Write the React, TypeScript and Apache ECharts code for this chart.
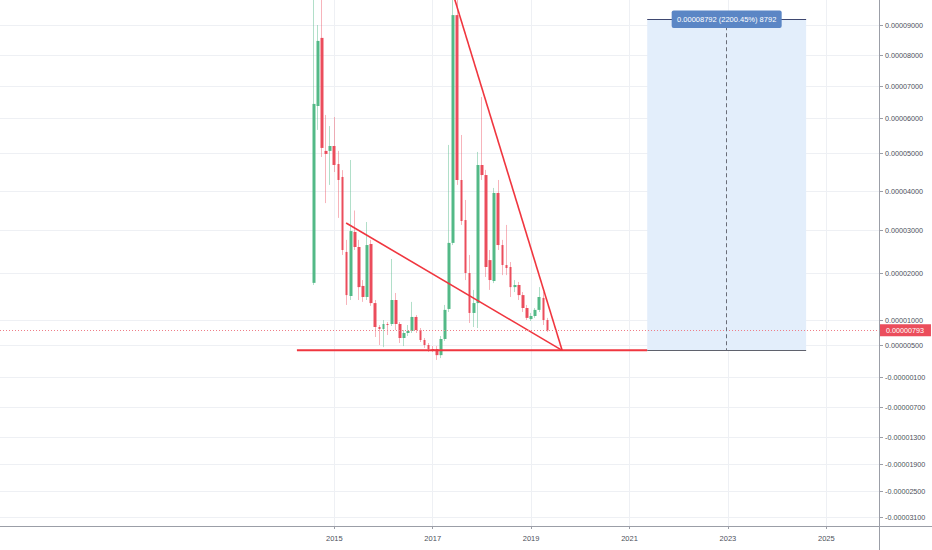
import React, { useEffect, useRef } from "react";
import * as echarts from "echarts";

// ---------- data (prices in units of 0.00000001) ----------
const FIRST_MONTH = "2014-08";
const OPEN = [
  1790, 6375, 8570, 5060, 5060, 5200, 4710, 4370, 2490, 1510,
  2955, 2605, 1725, 1490, 2675, 1360, 860, 820, 920, 920,
  1425, 920, 640, 740, 780, 1065, 800, 600, 500, 425,
  425, 310, 620, 1235, 2700, 9330, 4290, 3255, 2000, 1150,
  1360, 4685, 4420, 2300, 1830, 3950, 2650, 2185, 2140, 1700,
  1745, 1530, 1255, 1020, 1085, 1215, 1470, 1000,
];
const CLOSE = [
  6440, 8470, 5145, 4975, 5200, 4685, 4290, 2535, 1530, 2975,
  2605, 1700, 1490, 2650, 1360, 860, 820, 920, 900, 1425,
  920, 640, 740, 780, 1065, 800, 600, 500, 425, 405,
  310, 620, 1215, 2700, 9330, 4290, 3230, 2000, 1150, 1360,
  4685, 4420, 2140, 1850, 3950, 2650, 2185, 2115, 1700, 1745,
  1530, 1255, 1045, 1085, 1215, 1490, 1000, 793,
];
const LOW = [
  1745, 5660, 4895, 3690, 4160, 4500, 3310, 2420, 1320, 1425,
  2535, 1425, 1385, 1425, 1300, 660, 500, 460, 700, 880,
  800, 540, 480, 680, 740, 740, 560, 445, 370, 370,
  220, 255, 580, 1170, 2650, 4160, 3130, 1850, 940, 860,
  840, 4290, 1915, 1640, 1785, 2535, 1955, 1955, 1490, 1595,
  1425, 1170, 1000, 980, 1045, 1170, 900, 760,
];
const HIGH = [
  10200, 9000, 10100, 6095, 5770, 6030, 5060, 4550, 2770, 4815,
  3500, 2770, 1850, 3205, 2770, 1425, 900, 1000, 960, 2325,
  1575, 960, 800, 900, 1385, 1105, 840, 640, 540, 480,
  480, 680, 1320, 5230, 10100, 10100, 5515, 3770, 2420, 1640,
  5030, 6655, 4555, 2535, 4080, 4290, 2770, 3130, 2255, 1850,
  1810, 1595, 1320, 1150, 1255, 1700, 1595, 1045,
];
const LAST_PRICE = 793;

const PRICE_TICKS = [9000, 8000, 7000, 6000, 5000, 4000, 3000, 2000, 1000, 500, -100, -700, -1300, -1900, -2500, -3100];
const YEAR_TICKS = [2015, 2017, 2019, 2021, 2023, 2025];

// drawings: [fractional year, price]
const SUPPORT_LINE = [[2014.24, 400], [2021.36, 400]];
const UPPER_TREND = [[2017.45, 9840], [2019.63, 400]];
const LOWER_TREND = [[2015.24, 3180], [2019.63, 400]];
const RANGE_FROM = 400;
const RANGE_TO = 9192;
const RANGE_START = 2021.36;
const RANGE_END = 2024.59;
const RANGE_LABEL = "0.00008792 (2200.45%) 8792";

// ---------- scale ----------
const PLOT_H = 526;
const X_MIN = 2008.205;
const X_MAX = 2026.071;
// the price axis is a compressed (log-like) scale; knots = depth below top edge of each labelled price
const SCALE_DEPTH = [25, 55, 86, 118, 153, 191, 230, 273, 320, 345, 377, 407, 437, 464, 491, 517];

function depthOf(p: number): number {
  const v = PRICE_TICKS;
  const d = SCALE_DEPTH;
  const n = v.length;
  let k = 0;
  while (k < n - 2 && p < v[k + 1]) k++;
  const f = (v[k] - p) / (v[k] - v[k + 1]);
  return d[k] + f * (d[k + 1] - d[k]);
}
const T = (p: number) => PLOT_H - depthOf(p);
const TICK_T = PRICE_TICKS.map(T);

function fmtPrice(u: number): string {
  const s = u < 0 ? "-" : "";
  const a = String(Math.abs(Math.round(u))).padStart(8, "0");
  return s + "0." + a;
}

const [FY, FM] = FIRST_MONTH.split("-").map(Number);
const monthX = (i: number) => FY + (FM - 1 + i) / 12;

const FONT = "'Liberation Sans', Arial, sans-serif";
const UP = "#53b987";
const DOWN = "#eb4d5c";
const AXIS = "#9b9ea7";
const GRID = "#eef0f4";
const TEXT = "#4d505b";
const TREND = "#f0363f";
const LABEL_BOX = "path://M2,0 L108,0 Q110,0 110,2 L110,15.5 Q110,17.5 108,17.5 L2,17.5 Q0,17.5 0,15.5 L0,2 Q0,0 2,0 Z";

export default function App() {
  const ref = useRef<HTMLDivElement>(null);

  useEffect(() => {
    if (!ref.current) return;
    const chart = echarts.init(ref.current, undefined, { renderer: "svg" });

    const wickData = OPEN.map((o, i) => [monthX(i), T(o), T(CLOSE[i]), T(LOW[i]), T(HIGH[i])]);
    const bodyData = OPEN.map((o, i) => {
      const c = CLOSE[i];
      return [monthX(i), T(o), T(c), T(Math.min(o, c)), T(Math.max(o, c))];
    });
    const toLine = (pts: number[][]) => pts.map(([x, p]) => [x, T(p)]);
    const rangeMid = (RANGE_START + RANGE_END) / 2;

    const option: any = {
      animation: false,
      backgroundColor: "#ffffff",
      textStyle: { fontFamily: FONT },
      grid: { left: 0, right: 53, top: 0, bottom: 24, outerBoundsMode: "none" },
      xAxis: {
        type: "value",
        min: X_MIN,
        max: X_MAX,
        axisLine: { show: false },
        axisTick: { show: true, customValues: YEAR_TICKS, length: 3, lineStyle: { color: AXIS } },
        axisLabel: {
          customValues: YEAR_TICKS,
          formatter: (v: number) => String(Math.round(v)),
          fontSize: 7.5,
          color: TEXT,
          margin: 8.5,
          fontFamily: FONT,
        },
        splitLine: { show: true, lineStyle: { color: GRID, width: 1 } },
      },
      yAxis: {
        type: "value",
        position: "right",
        min: 0,
        max: PLOT_H,
        axisLine: { show: false },
        axisTick: { show: true, customValues: TICK_T, length: 4, lineStyle: { color: AXIS } },
        axisLabel: {
          customValues: TICK_T,
          formatter: (v: number) => {
            let best = 0;
            for (let k = 1; k < TICK_T.length; k++) {
              if (Math.abs(TICK_T[k] - v) < Math.abs(TICK_T[best] - v)) best = k;
            }
            return fmtPrice(PRICE_TICKS[best]);
          },
          fontSize: 7.2,
          color: TEXT,
          margin: 6,
          fontFamily: FONT,
        },
        splitLine: { show: true, lineStyle: { color: GRID, width: 1 } },
      },
      graphic: [
        {
          type: "line",
          silent: true,
          z: 50,
          shape: { x1: 0, y1: 526.5, x2: 932, y2: 526.5 },
          style: { stroke: AXIS, lineWidth: 1 },
        },
        {
          type: "line",
          silent: true,
          z: 50,
          shape: { x1: 879.5, y1: 0, x2: 879.5, y2: 550 },
          style: { stroke: AXIS, lineWidth: 1 },
        },
      ],
      series: [
        {
          name: "wicks",
          type: "candlestick",
          silent: true,
          barWidth: 0.5,
          data: wickData,
          z: 2,
          itemStyle: {
            color: "rgba(0,0,0,0)",
            color0: "rgba(0,0,0,0)",
            borderColor: "rgba(83,185,135,0.45)",
            borderColor0: "rgba(235,77,92,0.42)",
            borderWidth: 1,
          },
        },
        {
          name: "bodies",
          type: "candlestick",
          silent: true,
          barWidth: 3.2,
          data: bodyData,
          z: 3,
          itemStyle: {
            color: UP,
            color0: DOWN,
            borderColor: UP,
            borderColor0: DOWN,
            borderWidth: 0,
          },
          markLine: {
            silent: true,
            symbol: "none",
            data: [{ yAxis: T(LAST_PRICE) }],
            lineStyle: { color: "#ef7d88", type: [1, 2], width: 1 },
            label: {
              show: true,
              position: "end",
              distance: 1,
              formatter: () => fmtPrice(LAST_PRICE),
              backgroundColor: DOWN,
              color: "#ffffff",
              padding: [2.5, 7, 2.5, 6],
              fontSize: 7.2,
              fontFamily: FONT,
            },
          },
        },
        {
          name: "support",
          type: "line",
          silent: true,
          symbol: "none",
          z: 4,
          data: toLine(SUPPORT_LINE),
          lineStyle: { color: TREND, width: 2 },
          markArea: {
            silent: true,
            itemStyle: { color: "#e3eefb" },
            data: [[{ coord: [RANGE_START, T(RANGE_TO)] }, { coord: [RANGE_END, T(RANGE_FROM)] }]],
          },
          markLine: {
            silent: true,
            symbol: "none",
            label: { show: false },
            data: [
              [
                { coord: [RANGE_START, T(RANGE_TO)], lineStyle: { color: "#3e4770", width: 1, type: "solid" } },
                { coord: [RANGE_END, T(RANGE_TO)] },
              ],
              [
                { coord: [RANGE_START, T(RANGE_FROM)], lineStyle: { color: "#5f626d", width: 1, type: "solid" } },
                { coord: [RANGE_END, T(RANGE_FROM)] },
              ],
              [
                { coord: [rangeMid, T(RANGE_TO)], lineStyle: { color: "#6a6d78", width: 1, type: [4, 3] } },
                { coord: [rangeMid, T(RANGE_FROM)] },
              ],
            ],
          },
          markPoint: {
            silent: true,
            data: [
              {
                coord: [rangeMid, T(RANGE_TO)],
                symbol: LABEL_BOX,
                symbolSize: [110, 17.5],
                symbolKeepAspect: false,
                itemStyle: { color: "#5b86c5" },
                label: {
                  show: true,
                  position: "inside",
                  formatter: RANGE_LABEL,
                  color: "#ffffff",
                  fontSize: 7.5,
                  fontFamily: FONT,
                },
              },
            ],
          },
        },
        {
          name: "upper trend",
          type: "line",
          silent: true,
          symbol: "none",
          z: 4,
          data: toLine(UPPER_TREND),
          lineStyle: { color: TREND, width: 1.6 },
        },
        {
          name: "lower trend",
          type: "line",
          silent: true,
          symbol: "none",
          z: 4,
          data: toLine(LOWER_TREND),
          lineStyle: { color: TREND, width: 1.6 },
        },
      ],
    };

    chart.setOption(option);
    return () => chart.dispose();
  }, []);

  return (
    <div
      ref={ref}
      style={{ position: "fixed", left: 0, top: 0, width: 932, height: 550, background: "#fff" }}
    />
  );
}
